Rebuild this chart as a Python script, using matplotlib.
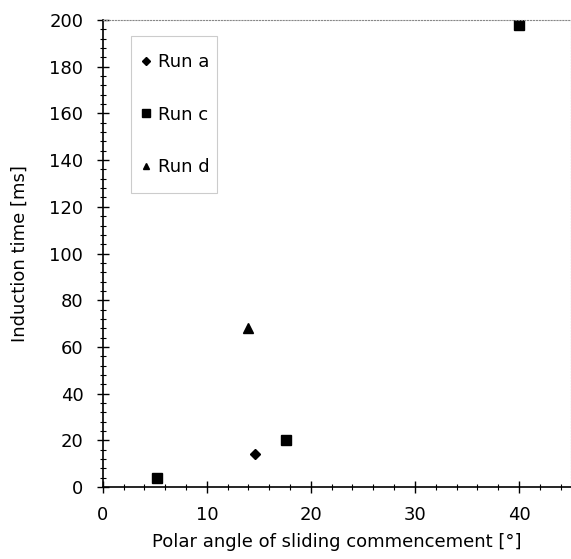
import matplotlib
matplotlib.use("Agg")
import matplotlib.pyplot as plt
from matplotlib.patches import Rectangle
from matplotlib.ticker import MultipleLocator

# data
run_a_x = [14.6]
run_a_y = [14]
run_c_x = [5.2, 17.6, 40.0]
run_c_y = [4, 20, 198]
run_d_x = [14.0]
run_d_y = [68]

plt.rcParams['font.family'] = ['DejaVu Sans']
fs = 13

fig = plt.figure(figsize=(5.71, 5.59), dpi=100)
ax = fig.add_axes([0.180, 0.129, 0.820, 0.835])

ax.plot(run_a_x, run_a_y, 'kD', markersize=5, linestyle='none', label='Run a')
ax.plot(run_c_x, run_c_y, 'ks', markersize=7, linestyle='none', label='Run c')
ax.plot(run_d_x, run_d_y, 'k^', markersize=6.5, linestyle='none', label='Run d')

ax.set_xlim(0, 45)
ax.set_ylim(0, 200)
ax.xaxis.set_major_locator(MultipleLocator(10))
ax.xaxis.set_minor_locator(MultipleLocator(2))
ax.yaxis.set_major_locator(MultipleLocator(20))
ax.yaxis.set_minor_locator(MultipleLocator(4))
ax.tick_params(which='major', direction='inout', length=8, width=1, labelsize=fs,
               colors='k', pad=10)
ax.tick_params(which='minor', direction='inout', length=4.5, width=0.8)

for s in ['top', 'right']:
    ax.spines[s].set_linestyle(':')
    ax.spines[s].set_color('#888888')
    ax.spines[s].set_linewidth(0.8)
ax.spines['left'].set_linewidth(1.2)
ax.spines['bottom'].set_linewidth(1.2)

ax.set_xlabel('Polar angle of sliding commencement [°]', fontsize=fs, labelpad=6)
ax.set_ylabel('Induction time [ms]', fontsize=fs, labelpad=15)

# legend without frame; the box is drawn around it with more room top/bottom
leg = ax.legend(loc='upper left', bbox_to_anchor=(0.080, 0.929), frameon=False,
                fontsize=fs, labelspacing=1.9, handlelength=0.6, handletextpad=0.4,
                borderpad=0, markerscale=0.75, borderaxespad=0)
fig.canvas.draw()
bb = leg.get_window_extent()
inv = fig.transFigure.inverted()
x0, y0 = inv.transform((bb.x0 - 9, bb.y0 - 17))
x1, y1 = inv.transform((bb.x1 + 7, bb.y1 + 17))
fig.patches.append(Rectangle((x0, y0), x1 - x0, y1 - y0, transform=fig.transFigure,
                             facecolor='none', edgecolor='#cccccc', linewidth=0.8))

fig.savefig('out.png', dpi=100)
